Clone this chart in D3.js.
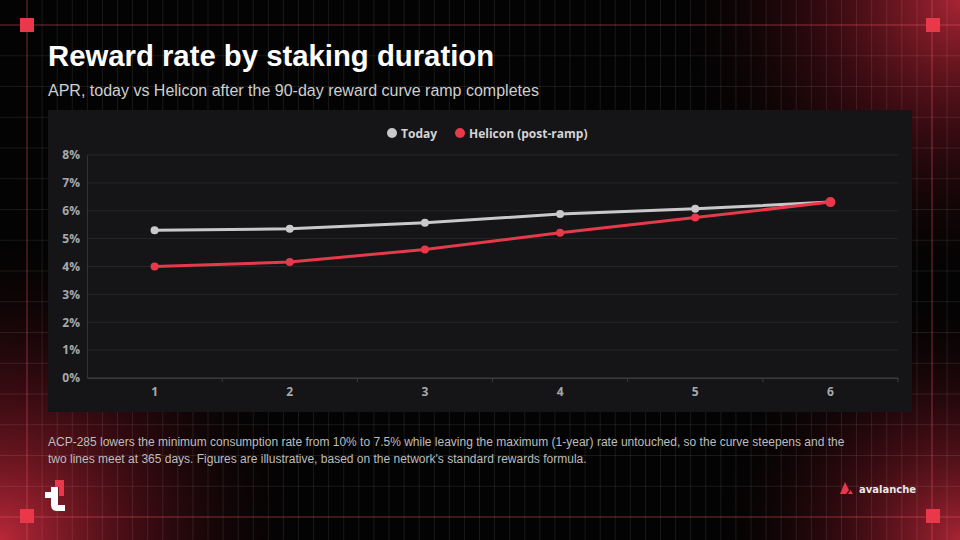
<!DOCTYPE html>
<html>
<head>
<meta charset="utf-8">
<script src="https://cdn.jsdelivr.net/npm/d3@7"></script>
<style>
  html, body { margin: 0; padding: 0; background: #000; }
  svg { display: block; }
</style>
</head>
<body>
<div id="chart"></div>
<script>
// Chart data
const durations = ["1", "2", "3", "4", "5", "6"];
const todayApr = [5.30, 5.35, 5.57, 5.88, 6.07, 6.31];
const heliconApr = [4.00, 4.16, 4.61, 5.21, 5.76, 6.31];
const yTicks = [0, 1, 2, 3, 4, 5, 6, 7, 8];
const seriesNames = ["Today", "Helicon (post-ramp)"];

const width = 960;
const height = 540;
const todayColour = "#c9c9cb";
const heliconColour = "#e63a4b";

const svg = d3.select("#chart")
  .append("svg")
    .attr("width", width)
    .attr("height", height);

/****************************/
/*       Background         */
/****************************/
const defs = svg.append("defs");
const glow = (id, cx, cy, r, op) => {
  const g = defs.append("radialGradient").attr("id", id)
    .attr("gradientUnits", "userSpaceOnUse")
    .attr("cx", cx).attr("cy", cy).attr("r", r);
  g.append("stop").attr("offset", "0%").attr("stop-color", "#c42a3c").attr("stop-opacity", op);
  g.append("stop").attr("offset", "45%").attr("stop-color", "#7a1522").attr("stop-opacity", op * 0.5);
  g.append("stop").attr("offset", "100%").attr("stop-color", "#000").attr("stop-opacity", 0);
};
glow("glowTR", 960, 0, 300, 0.85);
glow("glowBL", 0, 540, 320, 0.95);
glow("glowBR", 960, 540, 260, 0.85);

svg.append("rect").attr("width", width).attr("height", height).attr("fill", "#030303");
["glowTR", "glowBL", "glowBR"].forEach(id => {
  svg.append("rect").attr("width", width).attr("height", height).attr("fill", `url(#${id})`);
});

// faint grid
const bg = svg.append("g").attr("stroke", "#ffffff").attr("stroke-opacity", 0.09).attr("stroke-width", 1);
d3.range(27, 960, 905 / 60).forEach(x => {
  bg.append("line").attr("x1", x).attr("x2", x).attr("y1", 0).attr("y2", height);
});
d3.range(25 - 30.75, 560, 30.75).forEach(y => {
  bg.append("line").attr("x1", 0).attr("x2", width).attr("y1", y).attr("y2", y);
});

// red frame lines and squares
const frame = svg.append("g").attr("stroke", "#e63a4b").attr("stroke-opacity", 0.45).attr("stroke-width", 1);
[25, 517].forEach(y => frame.append("line").attr("x1", 0).attr("x2", width).attr("y1", y).attr("y2", y));
[27, 932].forEach(x => frame.append("line").attr("y1", 0).attr("y2", height).attr("x1", x).attr("x2", x));
[[27, 25], [933, 25], [27, 516], [933, 516]].forEach(([x, y]) => {
  svg.append("rect").attr("x", x - 7).attr("y", y - 7).attr("width", 14).attr("height", 14).attr("fill", "#e8384a");
});

/****************************/
/*         Titles           */
/****************************/
svg.append("text")
  .attr("x", 48).attr("y", 66)
  .attr("font-family", "Liberation Sans, Arial, sans-serif")
  .attr("font-size", 29.3).attr("font-weight", "bold").attr("fill", "#ffffff")
  .text("Reward rate by staking duration");

svg.append("text")
  .attr("x", 48).attr("y", 96)
  .attr("font-family", "Liberation Sans, Arial, sans-serif")
  .attr("font-size", 16).attr("fill", "#cfcfcf")
  .text("APR, today vs Helicon after the 90-day reward curve ramp completes");

/****************************/
/*       Chart panel        */
/****************************/
svg.append("rect")
  .attr("x", 48).attr("y", 110).attr("width", 864).attr("height", 302)
  .attr("fill", "#151517");

const xScale = d3.scaleBand()
  .domain(durations)
  .range([87, 898])
  .padding(0);

const yScale = d3.scaleLinear()
  .domain([0, 8])
  .range([378, 155]);

const tickFont = "Open Sans, Noto Sans, sans-serif";

// horizontal grid
svg.append("g")
  .selectAll("line")
  .data(yTicks)
  .join("line")
    .attr("x1", 87).attr("x2", 898)
    .attr("y1", d => yScale(d)).attr("y2", d => yScale(d))
    .attr("stroke", d => d === 0 ? "#3c3c3e" : "#262628")
    .attr("stroke-width", 1);

// left axis
const leftAxis = d3.axisLeft(yScale)
  .tickValues(yTicks)
  .tickSize(0)
  .tickPadding(7)
  .tickFormat(d => `${d}%`);
const yAxisG = svg.append("g")
  .attr("transform", "translate(87, 0)")
  .call(leftAxis);
yAxisG.select(".domain").attr("stroke", "#333335");
yAxisG.selectAll("text")
  .attr("font-family", tickFont).attr("font-size", 12).attr("font-weight", "bold")
  .attr("fill", "#a8a8aa");

// bottom axis
const bottomAxis = d3.axisBottom(xScale)
  .tickSize(0)
  .tickPadding(9);
const xAxisG = svg.append("g")
  .attr("transform", "translate(0, 378)")
  .call(bottomAxis);
xAxisG.select(".domain").attr("stroke", "#3c3c3e");
xAxisG.selectAll("text")
  .attr("font-family", tickFont).attr("font-size", 12).attr("font-weight", "bold")
  .attr("fill", "#a8a8aa");
// tick marks at band boundaries
xAxisG.append("g")
  .selectAll("line")
  .data(durations)
  .join("line")
    .attr("x1", d => xScale(d) + xScale.bandwidth())
    .attr("x2", d => xScale(d) + xScale.bandwidth())
    .attr("y1", 0).attr("y2", 4)
    .attr("stroke", "#3c3c3e");

/****************************/
/*          Lines           */
/****************************/
const cx = d => xScale(d) + xScale.bandwidth() / 2;
const series = [
  { name: seriesNames[0], values: todayApr, colour: todayColour },
  { name: seriesNames[1], values: heliconApr, colour: heliconColour }
];

const line = d3.line()
  .x((d, i) => cx(durations[i]))
  .y(d => yScale(d));

series.forEach((s, si) => {
  svg.append("path")
    .datum(s.values)
    .attr("d", line)
    .attr("fill", "none")
    .attr("stroke", s.colour)
    .attr("stroke-width", 3);
  svg.append("g")
    .selectAll("circle")
    .data(s.values)
    .join("circle")
      .attr("cx", (d, i) => cx(durations[i]))
      .attr("cy", d => yScale(d))
      .attr("r", (d, i) => (si === 1 && i === s.values.length - 1) ? 5 : 4)
      .attr("fill", s.colour);
});

/****************************/
/*          Legend          */
/****************************/
const legend = svg.append("g").attr("transform", "translate(0, 133)");
const legendX = [392, 460];
series.forEach((s, i) => {
  legend.append("circle")
    .attr("cx", legendX[i]).attr("cy", 0).attr("r", 5)
    .attr("fill", s.colour);
  legend.append("text")
    .attr("x", legendX[i] + 9).attr("y", 4.5)
    .attr("font-family", tickFont).attr("font-size", 12).attr("font-weight", "bold")
    .attr("fill", "#d4d4d6")
    .text(s.name);
});

/****************************/
/*         Footnote         */
/****************************/
const note = svg.append("text")
  .attr("font-family", "Liberation Sans, Arial, sans-serif")
  .attr("font-size", 12).attr("fill", "#bdbdbd");
note.append("tspan").attr("x", 48).attr("y", 446)
  .text("ACP-285 lowers the minimum consumption rate from 10% to 7.5% while leaving the maximum (1-year) rate untouched, so the curve steepens and the");
note.append("tspan").attr("x", 48).attr("y", 463)
  .text("two lines meet at 365 days. Figures are illustrative, based on the network's standard rewards formula.");

/****************************/
/*          Logos           */
/****************************/
// left "t" mark
svg.append("path")
  .attr("d", "M45,492 H51 V487 H58 V505 H65 V511 H57 Q51,511 51,505 V498 H45 Z")
  .attr("fill", "#ffffff");
svg.append("path")
  .attr("d", "M55,480 H64 V496 H59 V487 H55 Z")
  .attr("fill", "#e8384a");

// avalanche mark
const ava = svg.append("g").attr("transform", "translate(840, 488)");
ava.append("path").attr("d", "M0,6 L5,-6 L9,2 L6,6 Z").attr("fill", "#e8384a");
ava.append("path").attr("d", "M8,6 L10.5,2 L13,6 Z").attr("fill", "#e8384a");
ava.append("text")
  .attr("x", 19).attr("y", 5)
  .attr("font-family", "DejaVu Sans, sans-serif")
  .attr("font-size", 10).attr("font-weight", "bold").attr("fill", "#e8e8e8")
  .text("avalanche");
</script>
</body>
</html>
